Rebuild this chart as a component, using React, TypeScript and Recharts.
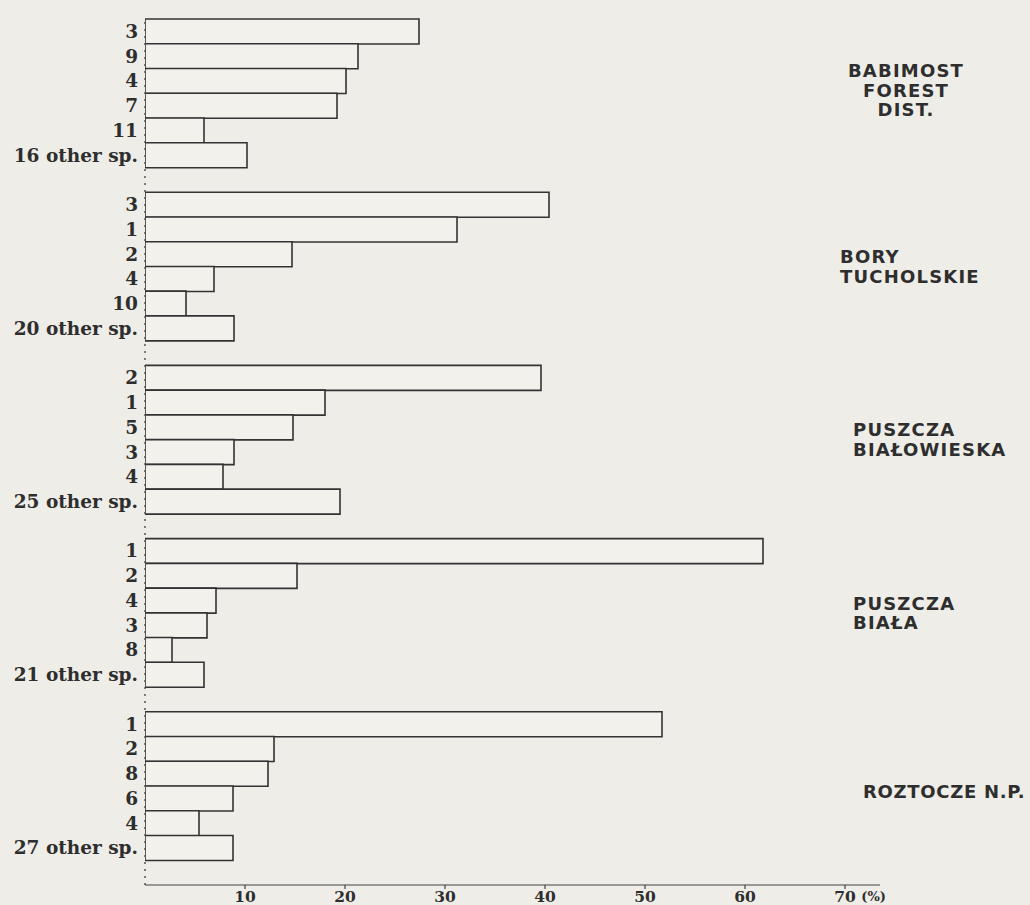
import React from 'react'
import { BarChart, Bar, XAxis, YAxis, ReferenceLine, Label } from 'recharts'

// share of species (%) per forest area
const groupNames = [
  ['BABIMOST', 'FOREST', 'DIST.'],
  ['BORY', 'TUCHOLSKIE'],
  ['PUSZCZA', 'BIAŁOWIESKA'],
  ['PUSZCZA', 'BIAŁA'],
  ['ROZTOCZE N.P.'],
]

const babimostSpecies = ['3', '9', '4', '7', '11', '16 other sp.']
const babimostShare = [27.4, 21.3, 20.1, 19.2, 5.9, 10.2]

const borySpecies = ['3', '1', '2', '4', '10', '20 other sp.']
const boryShare = [40.4, 31.2, 14.7, 6.9, 4.1, 8.9]

const bialowiezaSpecies = ['2', '1', '5', '3', '4', '25 other sp.']
const bialowiezaShare = [39.6, 18.0, 14.8, 8.9, 7.8, 19.5]

const bialaSpecies = ['1', '2', '4', '3', '8', '21 other sp.']
const bialaShare = [61.8, 15.2, 7.1, 6.2, 2.7, 5.9]

const roztoczeSpecies = ['1', '2', '8', '6', '4', '27 other sp.']
const roztoczeShare = [51.7, 12.9, 12.3, 8.8, 5.4, 8.8]

const xTicks = [10, 20, 30, 40, 50, 60, 70]

const groups = [
  { species: babimostSpecies, share: babimostShare },
  { species: borySpecies, share: boryShare },
  { species: bialowiezaSpecies, share: bialowiezaShare },
  { species: bialaSpecies, share: bialaShare },
  { species: roztoczeSpecies, share: roztoczeShare },
]

type Row = { key: string; species: string; share: number | null; group: number; pos: number }

const rows: Row[] = []
groups.forEach((g, gi) => {
  g.species.forEach((s, i) => {
    rows.push({ key: `g${gi}-${i}`, species: s, share: g.share[i], group: gi, pos: i })
  })
  rows.push({ key: `gap${gi}`, species: '', share: null, group: gi, pos: -1 })
})

const WIDTH = 1030
const HEIGHT = 905
const TOP = 19
const X_AXIS_H = 20
const ROW_H = (HEIGHT - TOP - X_AXIS_H) / rows.length

const BG = '#eeede8'
const INK = '#2e2e2e'

// placement of the area names to the right of the bars
const groupLabelStyle = [
  { dx: 26, dy: -3, anchor: 'middle', spacing: 1.2 },
  { dx: -40, dy: 0, anchor: 'start', spacing: 1.2 },
  { dx: -27, dy: 0, anchor: 'start', spacing: 1.2 },
  { dx: -27, dy: 0, anchor: 'start', spacing: 1.2 },
  { dx: -17, dy: 5, anchor: 'start', spacing: 0.7 },
]

const SpeciesTick = ({ x, y, payload }: any) => {
  const row = rows.find((r) => r.key === payload.value)
  if (!row || !row.species) return null
  return (
    <text
      x={x}
      y={y}
      textAnchor="end"
      dominantBaseline="central"
      fontFamily="DejaVu Serif"
      fontWeight="bold"
      fontSize={18.5}
      fill={INK}
    >
      {row.species}
    </text>
  )
}

const GroupTick = ({ x, y, payload }: any) => {
  const row = rows.find((r) => r.key === payload.value)
  if (!row || row.pos !== 2) return null
  const lines = groupNames[row.group]
  const st = groupLabelStyle[row.group]
  const lh = 19.5
  const cy = y + ROW_H / 2 + st.dy
  return (
    <g>
      {lines.map((l, i) => (
        <text
          key={i}
          x={x + st.dx}
          y={cy - ((lines.length - 1) * lh) / 2 + i * lh}
          textAnchor={st.anchor as any}
          dominantBaseline="central"
          fontFamily="DejaVu Sans"
          fontWeight="bold"
          fontSize={18}
          letterSpacing={st.spacing}
          fill={INK}
        >
          {l}
        </text>
      ))}
    </g>
  )
}

export default function App() {
  return (
    <div style={{ position: 'absolute', left: 0, top: 0, width: WIDTH, height: HEIGHT, background: BG }}>
      <BarChart
        width={WIDTH}
        height={HEIGHT}
        data={rows}
        layout="vertical"
        barCategoryGap={0}
        margin={{ top: TOP, right: 0, bottom: 0, left: 0 }}
      >
        <XAxis
          type="number"
          domain={[0, 73.5]}
          ticks={xTicks}
          allowDataOverflow
          height={X_AXIS_H}
          axisLine={{ stroke: '#444', strokeWidth: 1.2 }}
          tickLine={{ stroke: '#444', strokeWidth: 1.2 }}
          tickSize={4}
          tickMargin={2}
          tick={{ fontFamily: 'DejaVu Serif', fontWeight: 'bold', fontSize: 15.5, fill: INK }}
        >
          <Label
            value="(%)"
            position="insideBottomRight"
            offset={0}
            dx={6}
            dy={-4}
            style={{ fontFamily: 'DejaVu Serif', fontWeight: 'bold', fontSize: 13, fill: INK }}
          />
        </XAxis>
        <YAxis
          yAxisId="left"
          type="category"
          dataKey="key"
          width={145}
          axisLine={false}
          tickLine={false}
          tickSize={0}
          tickMargin={7}
          interval={0}
          tick={<SpeciesTick />}
        />
        <YAxis
          yAxisId="right"
          orientation="right"
          type="category"
          dataKey="key"
          width={150}
          axisLine={false}
          tickLine={false}
          tickSize={0}
          tickMargin={0}
          interval={0}
          tick={<GroupTick />}
        />
        <ReferenceLine yAxisId="left" x={0} stroke="#555" strokeWidth={1.5} strokeDasharray="2 5" />
        <Bar
          yAxisId="left"
          dataKey="share"
          fill="#f2f1ec"
          stroke="#333"
          strokeWidth={1.6}
          isAnimationActive={false}
        />
      </BarChart>
    </div>
  )
}
